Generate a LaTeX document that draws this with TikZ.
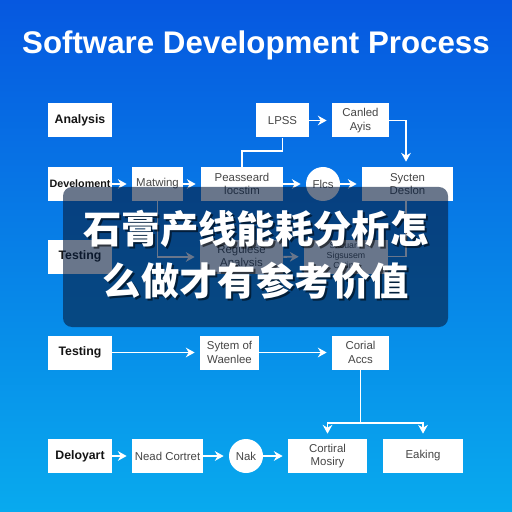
\documentclass[tikz,border=0pt]{standalone}
\usepackage{fontspec}
\setmainfont{Liberation Sans}
\newfontfamily\cjk{Noto Sans CJK SC}
\usetikzlibrary{arrows.meta}
\definecolor{bgtop}{RGB}{6,88,224}
\definecolor{bgbot}{RGB}{8,170,238}
\definecolor{veil}{RGB}{6,28,62}
\definecolor{inkdark}{RGB}{20,20,20}
\definecolor{inklight}{RGB}{70,70,70}
\tikzset{>={Stealth[length=5pt,width=5.5pt]}}
\begin{document}
\begin{tikzpicture}[x=0.2mm, y=-0.2mm,
    box/.style={rectangle, fill=white, minimum height=6.8mm, inner sep=0pt, align=center,
        font=\fontsize{6.5}{7.6}\selectfont, text=inklight},
    stage/.style={box, minimum width=12.8mm, font=\fontsize{7}{8}\selectfont\bfseries, text=inkdark},
    dot/.style={circle, fill=white, minimum size=6.8mm, inner sep=0pt,
        font=\fontsize{6.5}{7.6}\selectfont, text=inklight},
    link/.style={draw=white, line width=1.1pt},
    flow/.style={link, ->, shorten >=1mm}]
    \useasboundingbox (0,0) rectangle (512,512);
    \shade[top color=bgtop, bottom color=bgbot] (0,0) rectangle (512,512);
    \node[text=white, anchor=base, font=\fontsize{17.8}{20}\selectfont\bfseries] (title) at (256,54) {Software Development Process};

    % row 1
    \node[stage] (ana) at (80,120.5) {Analysis};
    \node[box, minimum width=10.6mm] (lpss) at (282.5,120.5) {LPSS};
    \node[box, minimum width=11.4mm] (canl) at (360.5,120.5) {Canled\\Ayis};
    % row 2
    \node[stage, font=\fontsize{6.1}{7}\selectfont\bfseries] (dev) at (80,184) {Develoment};
    \node[box, minimum width=10.2mm] (mat) at (157.5,184) {Matwing};
    \node[box, minimum width=16.4mm] (pass) at (242,184) {Peasseard\\locstim};
    \node[dot] (flcs) at (323,184) {Flcs};
    \node[box, minimum width=18.2mm] (sysd) at (407.5,184) {Sycten\\Deslon};
    % row 3
    \node[stage] (test1) at (80,256.5) {Testing};
    \node[box, minimum width=16.6mm] (regr) at (241.5,257) {Regulese\\Analysis};
    \node[box, minimum width=16.8mm, font=\fontsize{5}{5.6}\selectfont] (gate) at (346,256.5) {Sxcuar r\\Sigsusem\\Cating};
    % row 4
    \node[stage] (test2) at (80,352.5) {Testing};
    \node[box, minimum width=11.8mm] (sysw) at (229.5,352.5) {Sytem of\\Waenlee};
    \node[box, minimum width=11.4mm] (cori) at (360.5,352.5) {Corial\\Accs};
    % row 5
    \node[stage] (depl) at (80,456) {Deloyart};
    \node[box, minimum width=14.2mm] (need) at (167.5,456) {Nead Cortret};
    \node[dot] (nak) at (246,456) {Nak};
    \node[box, minimum width=15.8mm] (cmos) at (327.5,456) {Cortiral\\Mosiry};
    \node[box, minimum width=16mm] (eak) at (423,456) {Eaking};

    \draw[flow] (lpss) -- (canl);
    \draw[link] (lpss.south) -- ++(0,13) -| (pass.north);
    \draw[flow] (canl.east) -| ([xshift=-0.3mm]sysd.north);
    \draw[flow] (dev) -- (mat);
    \draw[flow] (mat) -- (pass);
    \draw[flow] (pass) -- (flcs);
    \draw[flow] (flcs) -- (sysd);
    \draw[flow] (mat.south) |- (regr.west);
    \draw[flow] (regr) -- (gate);
    \draw[link] ([xshift=-0.3mm]sysd.south) |- (gate.east);
    \draw[flow] (test2) -- (sysw);
    \draw[flow] (sysw) -- (cori);
    \draw[link] (cori.south) -- ++(0,53) coordinate (split);
    \draw[flow] (split) -| (cmos.north);
    \draw[flow] (split) -| (eak.north);
    \draw[flow] (depl) -- (need);
    \draw[flow] (need) -- (nak);
    \draw[flow] (nak) -- (cmos);

    % caption panel
    \fill[veil, opacity=0.6, rounded corners=1.8mm] (63,187) rectangle (448,327);
    \node[text=black, opacity=0.55, font=\cjk\bfseries\fontsize{21.8}{24}\selectfont] (cap1s) at (258,231) {石膏产线能耗分析怎};
    \node[text=black, opacity=0.55, font=\cjk\bfseries\fontsize{21.8}{24}\selectfont] (cap2s) at (258,283) {么做才有参考价值};
    \node[text=white, font=\cjk\bfseries\fontsize{21.8}{24}\selectfont] (cap1) at (256,229) {石膏产线能耗分析怎};
    \node[text=white, font=\cjk\bfseries\fontsize{21.8}{24}\selectfont] (cap2) at (256,281) {么做才有参考价值};
\end{tikzpicture}
\end{document}
